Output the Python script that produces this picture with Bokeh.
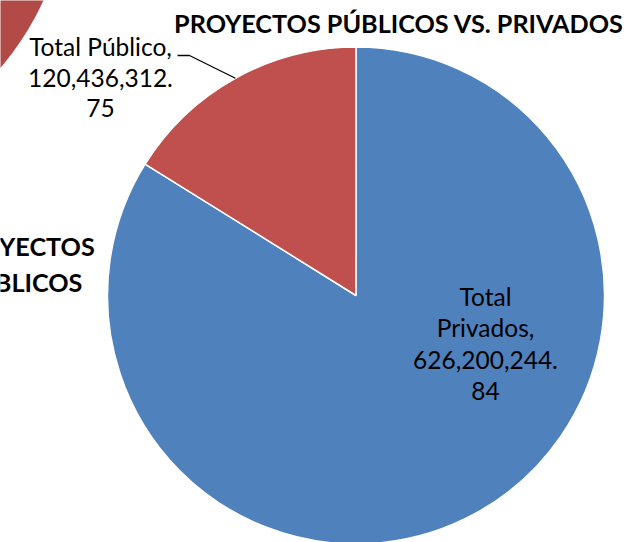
import math
from bokeh.plotting import figure
from bokeh.models import Range1d
from bokeh.core.properties import value
from bokeh.embed import file_html
from bokeh.resources import INLINE

# ---- data ----
categories = ["Total Privados", "Total Público"]
values = [626200244.84, 120436312.75]
colors = ["#4F81BD", "#C0504D"]
title_text = "PROYECTOS PÚBLICOS VS. PRIVADOS"
neighbor_title = ["PROYECTOS", "PÚBLICOS"]

H = 542  # page height used to convert screen y into data y

def sy(y):
    return H - y

p = figure(width=632, height=542, x_range=Range1d(0, 632), y_range=Range1d(0, 542),
           output_backend="svg", toolbar_location=None, min_border=0)
p.axis.visible = False
p.grid.visible = False
p.outline_line_color = None
p.background_fill_color = "white"
p.border_fill_color = "white"

FONT = "Lato"

# neighbouring chart fragment (top-left corner)
p.circle(x=[-220], y=[sy(-120)], radius=289, fill_color="#B24A47", line_color=None)

# ---- pie ----
cx, cy, R = 355.5, sy(295), 248.5
total = sum(values)
starts, ends = [], []
cum = 0.0
for v in values:
    starts.append(math.pi / 2 - 2 * math.pi * cum / total)
    cum += v
    ends.append(math.pi / 2 - 2 * math.pi * cum / total)

p.wedge(x=[cx] * len(values), y=[cy] * len(values), radius=R,
        start_angle=starts, end_angle=ends, direction="clock",
        fill_color=colors, line_color="white", line_width=1.5)

def split_label(cat, v):
    s = f"{v:,.2f}"
    i = s.index(".") + 1
    return cat, s[:i], s[i:]

# label for Total Público (outside with leader line)
cat, a, b = split_label(categories[1], values[1])
pub_lines = [cat + ",", a, b]
mid = (starts[1] + ends[1]) / 2
ex, ey = cx + R * math.cos(mid), cy + R * math.sin(mid)
p.line(x=[177, 189, ex], y=[sy(55), sy(55), ey], line_color="black", line_width=1.3)
p.text(x=[100] * 3, y=[sy(46), sy(77), sy(107)], text=pub_lines,
       text_align="center", text_baseline="middle", text_font=value(FONT),
       text_font_size="24.5px", text_color="black")

# label for Total Privados (inside)
cat, a, b = split_label(categories[0], values[0])
w = cat.split(" ")
priv_lines = [w[0], w[1] + ",", a, b]
p.text(x=[485] * 4, y=[sy(296), sy(327), sy(359), sy(390)], text=priv_lines,
       text_align="center", text_baseline="middle", text_font=value(FONT),
       text_font_size="24.5px", text_color="black")

# title
p.text(x=[398.5], y=[sy(22)], text=[title_text], text_align="center", text_baseline="middle",
       text_font=value(FONT), text_font_style="bold", text_font_size="25.2px", text_color="black")

# neighbouring chart's title (cut at left edge)
p.text(x=[21, 21], y=[sy(245), sy(281)], text=neighbor_title, text_align="center",
       text_baseline="middle", text_font=value(FONT), text_font_style="bold",
       text_font_size="25.2px", text_color="black")

open("out.html", "w").write(file_html(p, INLINE))
